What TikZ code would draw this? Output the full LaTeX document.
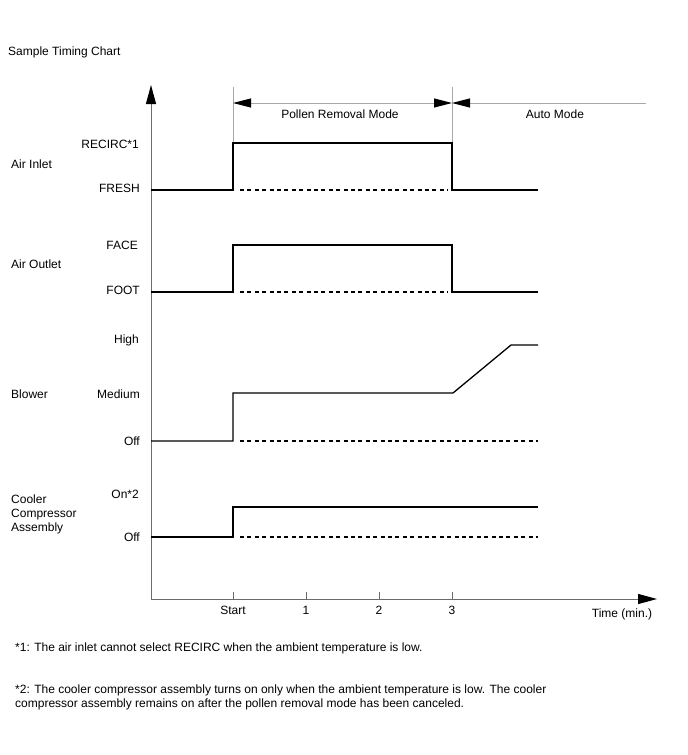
\documentclass[tikz,border=0pt]{standalone}
\usepackage{fontspec}
\setmainfont{Liberation Sans}
\usetikzlibrary{arrows.meta}
\definecolor{AxisClr}{rgb}{0.42,0.42,0.42}
\definecolor{GuideClr}{rgb}{0.66,0.66,0.66}

\begin{document}
\begin{tikzpicture}[x=1pt,y=-1pt,
  every node/.style={font=\fontsize{12}{14}\selectfont,inner sep=0pt},
  sig/.style={line width=1.3pt,black,line join=miter},
  offline/.style={line width=1.1pt,black,dash pattern=on 4pt off 3.4pt},
  guide/.style={line width=1pt,GuideClr},
  axis/.style={line width=1pt,AxisClr},
  lvl/.style={anchor=east},
  grp/.style={anchor=west,align=left},
  tick/.style={anchor=center}]
\useasboundingbox (0,0) rectangle (688,755);

\node[anchor=west] (title) at (8,52) {Sample Timing Chart};

% axes
\coordinate (O) at (151,599);
\coordinate (ytop) at (151,85);
\coordinate (xend) at (657,599);
\draw[axis,-{Triangle[length=19pt,width=10pt,black]}] (O) -- (ytop);
\draw[axis,-{Triangle[length=19pt,width=10pt,black]}] (O) -- (xend);
\foreach \x/\t [count=\i] in {233/Start,306/1,379/2,452/3}{
  \draw[axis] (\x,592) -- (\x,599);
  \node[tick] (tk\i) at (\x,610) {\t};
}
\node (time) at (622,614) {Time (min.)};

% mode guides
\coordinate (ms) at (233,103);
\coordinate (me) at (452,103);
\coordinate (ae) at (646,103);
\draw[guide] (233,87) -- (233,143);
\draw[guide] (452,87) -- (452,143);
\draw[guide,{Triangle[length=18pt,width=9pt,black]}-{Triangle[length=18pt,width=9pt,black]}] (ms) -- (me);
\draw[guide,{Triangle[length=18pt,width=9pt,black]}-] (me) -- (ae);
\node (pollen) at (340,114) {Pollen Removal Mode};
\node (auto) at (555,114) {Auto Mode};

% air inlet
\node[grp] (inlet) at (11,164) {Air Inlet};
\node[lvl] (recirc) at (139,144) {RECIRC*1};
\node[lvl] (fresh) at (140,188) {FRESH};
\draw[sig] (151,190) -- (233,190) -- (233,143) -- (452,143) -- (452,190) -- (538,190);
\draw[offline] (240,190) -- (448,190);

% air outlet
\node[grp] (outlet) at (11,264) {Air Outlet};
\node[lvl] (face) at (138,245) {FACE};
\node[lvl] (foot) at (140,290) {FOOT};
\draw[sig] (151,292) -- (233,292) -- (233,245) -- (452,245) -- (452,292) -- (538,292);
\draw[offline] (240,292) -- (448,292);

% blower
\node[grp] (blower) at (11,394) {Blower};
\node[lvl] (high) at (139,340) {High};
\node[lvl] (medium) at (140,394) {Medium};
\node[lvl] (boff) at (140,441) {Off};
\draw[sig] (151,441) -- (233,441) -- (233,393) -- (453,393) -- (511,345) -- (538,345);
\draw[offline] (240,441) -- (538,441);

% cooler compressor
\node[grp] (cooler) at (11,514) {Cooler\\Compressor\\Assembly};
\node[lvl] (on) at (139,494) {On*2};
\node[lvl] (coff) at (140,537) {Off};
\draw[sig] (151,537) -- (233,537) -- (233,507) -- (538,507);
\draw[offline] (240,537) -- (538,537);

% notes
\node[anchor=west] (note1) at (15,648) {*1: The air inlet cannot select RECIRC when the ambient temperature is low.};
\node[grp] (note2) at (15,697) {*2: The cooler compressor assembly turns on only when the ambient temperature is low. The cooler\\compressor assembly remains on after the pollen removal mode has been canceled.};
\end{tikzpicture}
\end{document}
